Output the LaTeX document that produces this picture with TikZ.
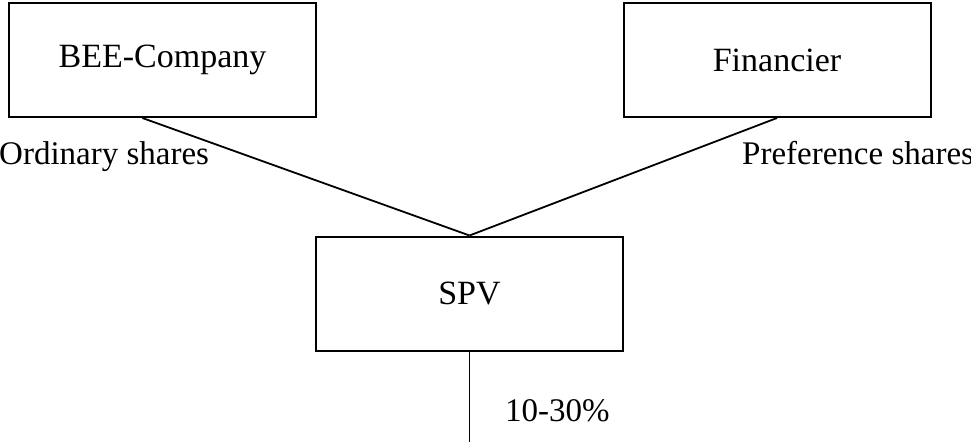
\documentclass[tikz,border=0pt]{standalone}
\usepackage{fontspec}
\setmainfont{Liberation Serif}
\usetikzlibrary{calc}
\begin{document}
\begin{tikzpicture}[x=1pt,y=-1pt,
  entity/.style={draw, line width=2pt, minimum width=307pt, minimum height=114pt, inner sep=0pt, font=\fontsize{34}{40}\selectfont},
  lbl/.style={inner sep=0pt, font=\fontsize{33}{40}\selectfont},
  link/.style={line width=1.8pt}]
\useasboundingbox (0,0) rectangle (971,442);
\node[entity] (bee) at (162.5,60) {BEE-Company};
\node[entity] (fin) at (777,60) {Financier};
\node[entity] (spv) at (469.5,293.5) {SPV};
\coordinate (bottom) at (469.5,442);
\draw[link] ($(bee.south west)!0.435!(bee.south east)$) -- (spv.north);
\draw[link] ($(fin.south west)!0.5!(fin.south east)$) -- (spv.north);
\draw[link] (spv.south) -- (bottom);
\node[lbl, anchor=base west] (ord) at (-1,164) {Ordinary shares};
\node[lbl, anchor=base west] (pref) at (742,164) {Preference shares};
\node[lbl, anchor=base west] (pct) at (505,421) {10-30\%};
\end{tikzpicture}
\end{document}
